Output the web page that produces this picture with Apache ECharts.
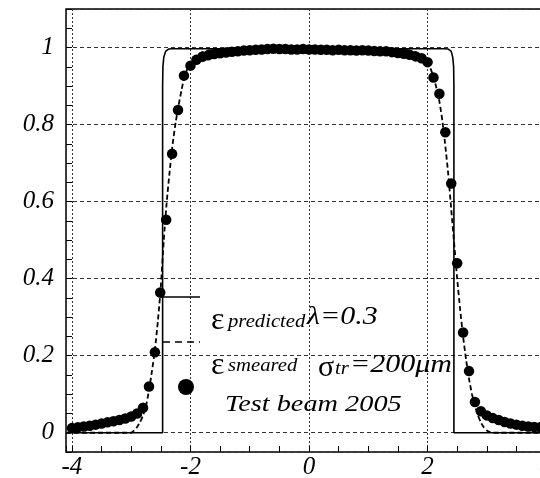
<!DOCTYPE html>
<html>
<head>
<meta charset="utf-8">
<script src="https://cdn.jsdelivr.net/npm/echarts@6/dist/echarts.min.js"></script>
<style>
  html, body { margin: 0; padding: 0; background: #fff; }
  #chart { width: 540px; height: 478px; }
</style>
</head>
<body>
<div id="chart"></div>
<script>
// predicted efficiency (solid), lambda = 0.3
const predX = [-4.1, -2.47, -2.47, -2.465, -2.45, -2.42, -2.37, -2.3, 2.28, 2.35, 2.4, 2.425, 2.44, 2.445, 2.445, 4.1];
const predY = [0, 0, 0.9, 0.95, 0.975, 0.99, 0.996, 0.997, 0.997, 0.996, 0.99, 0.975, 0.95, 0.9, 0, 0];

// smeared efficiency (dashed), sigma_tr = 200um
const smearX = [-4.1, -3.0, -2.95, -2.9, -2.85, -2.8, -2.75, -2.7, -2.65, -2.6, -2.55, -2.5, -2.45, -2.4, -2.35, -2.3, -2.25, -2.2, -2.15, -2.1, -2.05, -2.0, -1.9, -1.8, -1.6, -1.2,
                0, 1.2, 1.6, 1.8, 1.9, 2.0, 2.05, 2.1, 2.15, 2.2, 2.25, 2.3, 2.35, 2.4, 2.45, 2.5, 2.55, 2.6, 2.65, 2.7, 2.75, 2.8, 2.85, 2.9, 2.95, 3.0, 3.05, 3.1, 4.1];
const smearY = [0, 0, 0.006, 0.015, 0.028, 0.045, 0.07, 0.11, 0.16, 0.215, 0.29, 0.38, 0.5, 0.6, 0.68, 0.75, 0.805, 0.85, 0.89, 0.925, 0.945, 0.96, 0.978, 0.988, 0.995, 0.998,
                0.998, 0.998, 0.995, 0.988, 0.978, 0.962, 0.945, 0.925, 0.895, 0.86, 0.81, 0.745, 0.67, 0.58, 0.49, 0.4, 0.32, 0.25, 0.19, 0.14, 0.1, 0.07, 0.045, 0.027, 0.014, 0.006, 0.002, 0, 0];

// test beam 2005 measurements
const beamX = [-4.0, -3.9, -3.8, -3.7, -3.6, -3.5, -3.4, -3.3, -3.2, -3.1, -3.0, -2.9, -2.8, -2.7, -2.6, -2.51, -2.41, -2.31, -2.21, -2.11,
               -2.0, -1.9, -1.8, -1.7, -1.6, -1.5, -1.4, -1.3, -1.2, -1.1, -1.0, -0.9, -0.8, -0.7, -0.6, -0.5, -0.4, -0.3, -0.2, -0.1,
               0, 0.1, 0.2, 0.3, 0.4, 0.5, 0.6, 0.7, 0.8, 0.9, 1.0, 1.1, 1.2, 1.3, 1.4, 1.5, 1.6, 1.7, 1.8, 1.9,
               2.0, 2.1, 2.2, 2.3, 2.4, 2.5, 2.6, 2.7, 2.8, 2.9, 3.0, 3.1, 3.2, 3.3, 3.4, 3.5, 3.6, 3.7, 3.8, 3.9, 4.0];
const beamY = [0.012, 0.014, 0.016, 0.018, 0.021, 0.024, 0.027, 0.03, 0.033, 0.037, 0.042, 0.05, 0.065, 0.12, 0.209, 0.364, 0.553, 0.724, 0.838, 0.927,
               0.953, 0.968, 0.976, 0.98, 0.983, 0.985, 0.987, 0.989, 0.99, 0.992, 0.993, 0.994, 0.995, 0.996, 0.997, 0.996, 0.996, 0.995, 0.995, 0.996,
               0.995, 0.995, 0.994, 0.994, 0.993, 0.994, 0.993, 0.993, 0.992, 0.993, 0.992, 0.991, 0.99, 0.99, 0.988, 0.986, 0.984, 0.981, 0.977, 0.972,
               0.962, 0.922, 0.88, 0.78, 0.647, 0.44, 0.26, 0.16, 0.08, 0.056, 0.045, 0.038, 0.033, 0.028, 0.024, 0.021, 0.018, 0.016, 0.015, 0.014, 0.013];

const zip = (xs, ys) => xs.map((x, i) => [x, ys[i]]);
const serif = '"Liberation Serif", "DejaVu Serif", serif';

const chart = echarts.init(document.getElementById('chart'));

function txt(x, y, text, size, italic, sx) {
  return {
    type: 'text', x: x, y: y, scaleX: sx || 1, z: 10,
    style: {
      text: text, fill: '#000', fontFamily: serif, fontSize: size,
      fontStyle: italic ? 'italic' : 'normal', verticalAlign: 'alphabetic', align: 'left'
    }
  };
}

chart.setOption({
  animation: false,
  backgroundColor: '#fff',
  grid: { left: 66, top: 9, right: -12, bottom: 26, outerBoundsMode: 'none',
          show: true, borderColor: '#000', borderWidth: 1.5 },
  xAxis: {
    type: 'value', min: -4.1, max: 4.1,
    axisLine: { show: false, onZero: false },
    axisTick: { inside: true, length: 6, lineStyle: { color: '#000' } },
    minorTick: { show: true, splitNumber: 4, length: 6, lineStyle: { color: '#000' } },
    splitLine: { show: true, lineStyle: { type: [2, 2], color: '#333' } },
    axisLabel: { showMinLabel: false, showMaxLabel: false, margin: 3, color: '#000',
                 fontFamily: serif, fontStyle: 'italic', fontSize: 25 }
  },
  yAxis: {
    type: 'value', min: -0.05, max: 1.1,
    axisLine: { show: false, onZero: false },
    axisTick: { inside: true, length: 6, lineStyle: { color: '#000' } },
    minorTick: { show: true, splitNumber: 4, length: 6, lineStyle: { color: '#000' } },
    splitLine: { show: true, lineStyle: { type: [4, 3], color: '#333' } },
    axisLabel: { showMinLabel: false, showMaxLabel: false, margin: 12, color: '#000',
                 fontFamily: serif, fontStyle: 'italic', fontSize: 25 }
  },
  series: [
    {
      name: 'Test beam 2005', type: 'scatter', data: zip(beamX, beamY),
      symbol: 'circle', symbolSize: 10.5, itemStyle: { color: '#000', opacity: 1 }, z: 2
    },
    {
      name: 'smeared', type: 'line', data: zip(smearX, smearY), showSymbol: false, smooth: 0.2,
      lineStyle: { color: '#000', width: 1.8, type: [5, 3] }, z: 3
    },
    {
      name: 'predicted', type: 'line', data: zip(predX, predY), showSymbol: false,
      lineStyle: { color: '#000', width: 1.6 }, z: 4
    }
  ],
  graphic: [
    { type: 'line', z: 10, shape: { x1: 160, y1: 297, x2: 200, y2: 297 }, style: { stroke: '#000', lineWidth: 1.5 } },
    { type: 'line', z: 10, shape: { x1: 163, y1: 342, x2: 200, y2: 342 }, style: { stroke: '#000', lineWidth: 1.5, lineDash: [7, 5] } },
    { type: 'circle', z: 10, shape: { cx: 186, cy: 387, r: 8 }, style: { fill: '#000' } },
    txt(211, 305, 'ε', 32, false),
    txt(228, 313, 'predicted', 18, true, 1.15),
    txt(307, 305, 'λ=0.3', 25, true, 1.2),
    txt(211, 350, 'ε', 32, false),
    txt(228, 357, 'smeared', 18, true, 1.15),
    txt(318, 353, 'σ', 30, false),
    txt(335, 360, 'tr', 18, true, 1.15),
    txt(350, 353, '=200μm', 25, true, 1.2),
    txt(225, 393, 'Test beam 2005', 24, true, 1.18)
  ]
});
</script>
</body>
</html>
